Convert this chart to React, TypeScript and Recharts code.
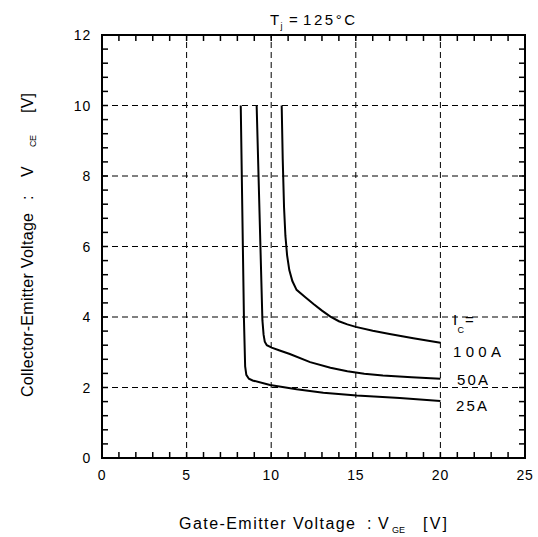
import React from 'react';
import { LineChart, Line, XAxis, YAxis, ReferenceLine, ReferenceArea } from 'recharts';

// ---- data ----
const xMajorTicks = [0, 5, 10, 15, 20, 25];
const xMinorTicks = [1, 2, 3, 4, 5, 6, 7, 8, 9, 10, 11, 12, 13, 14, 15, 16, 17, 18, 19, 20, 21, 22, 23, 24];
const yMajorTicks = [0, 2, 4, 6, 8, 10, 12];
const yMinorTicks = [0.4, 0.8, 1.2, 1.6, 2, 2.4, 2.8, 3.2, 3.6, 4, 4.4, 4.8, 5.2, 5.6, 6, 6.4, 6.8, 7.2, 7.6, 8, 8.4, 8.8, 9.2, 9.6, 10, 10.4, 10.8, 11.2, 11.6];
const xGridValues = [5, 10, 15, 20];
const yGridValues = [2, 4, 6, 8, 10];
const xDomain = [0, 25];
const yDomain = [0, 12];

const curve25A = [
  { x: 8.2, y: 10 },
  { x: 8.39, y: 3.92 },
  { x: 8.46, y: 2.6 },
  { x: 8.53, y: 2.36 },
  { x: 8.68, y: 2.25 },
  { x: 8.9, y: 2.2 },
  { x: 9.93, y: 2.07 },
  { x: 11.5, y: 1.95 },
  { x: 13.08, y: 1.85 },
  { x: 15.05, y: 1.77 },
  { x: 17.6, y: 1.7 },
  { x: 20, y: 1.62 },
];

const curve50A = [
  { x: 9.14, y: 10 },
  { x: 9.48, y: 3.91 },
  { x: 9.55, y: 3.5 },
  { x: 9.62, y: 3.3 },
  { x: 9.74, y: 3.2 },
  { x: 10.03, y: 3.13 },
  { x: 10.5, y: 3.05 },
  { x: 11.1, y: 2.95 },
  { x: 12.3, y: 2.72 },
  { x: 13.5, y: 2.56 },
  { x: 14.5, y: 2.46 },
  { x: 15.5, y: 2.39 },
  { x: 16.6, y: 2.34 },
  { x: 18.3, y: 2.29 },
  { x: 20, y: 2.25 },
];

const curve100A = [
  { x: 10.62, y: 10 },
  { x: 10.68, y: 8.5 },
  { x: 10.76, y: 7.1 },
  { x: 10.84, y: 6.3 },
  { x: 10.94, y: 5.75 },
  { x: 11.07, y: 5.33 },
  { x: 11.25, y: 5.02 },
  { x: 11.5, y: 4.77 },
  { x: 12.0, y: 4.57 },
  { x: 12.5, y: 4.37 },
  { x: 13.0, y: 4.18 },
  { x: 13.5, y: 4.01 },
  { x: 14.0, y: 3.88 },
  { x: 14.5, y: 3.79 },
  { x: 15.0, y: 3.72 },
  { x: 16.0, y: 3.61 },
  { x: 17.0, y: 3.52 },
  { x: 18.4, y: 3.4 },
  { x: 20, y: 3.27 },
];

const FONT = '"Liberation Sans", Arial, Helvetica, sans-serif';
const TICK_LEN = 6;
const TICK_W = 1.5;

const BottomLabel = (props: any) => {
  const { x, y, payload } = props;
  return (
    <text x={x} y={y + 22} textAnchor="middle" fontSize={14} fontFamily={FONT} fill="#000" letterSpacing={0.8}>
      {payload.value}
    </text>
  );
};

const LeftLabel = (props: any) => {
  const { x, y, payload } = props;
  return (
    <text x={x - 11} y={y + 5} textAnchor="end" fontSize={14} fontFamily={FONT} fill="#000" letterSpacing={0.8}>
      {payload.value}
    </text>
  );
};

// vertical reference line drawn only as inward tick marks at top and bottom edges
const XTickShape = (props: any) => {
  const { x1, y1, y2 } = props;
  const top = Math.min(y1, y2);
  const bot = Math.max(y1, y2);
  return (
    <g>
      <path d={`M${x1},${bot}L${x1},${bot - TICK_LEN}`} stroke="#000" strokeWidth={TICK_W} />
      <path d={`M${x1},${top}L${x1},${top + TICK_LEN}`} stroke="#000" strokeWidth={TICK_W} />
    </g>
  );
};

// horizontal reference line drawn only as inward tick marks at left and right edges
const YTickShape = (props: any) => {
  const { x1, x2, y1 } = props;
  const l = Math.min(x1, x2);
  const r = Math.max(x1, x2);
  return (
    <g>
      <path d={`M${l},${y1}L${l + TICK_LEN},${y1}`} stroke="#000" strokeWidth={TICK_W} />
      <path d={`M${r},${y1}L${r - TICK_LEN},${y1}`} stroke="#000" strokeWidth={TICK_W} />
    </g>
  );
};

export default function App() {
  return (
    <div style={{ position: 'absolute', left: 0, top: 0, width: 538, height: 537, background: '#fff', fontFamily: FONT }}>
      <LineChart width={538} height={537} margin={{ top: 35, right: 13, bottom: 0, left: 0 }}>
        <XAxis
          type="number"
          dataKey="x"
          domain={xDomain}
          ticks={xMajorTicks}
          interval={0}
          allowDataOverflow
          height={79}
          tickSize={0}
          tickMargin={0}
          tickLine={false}
          axisLine={false}
          tick={<BottomLabel />}
        />
        <YAxis
          type="number"
          domain={yDomain}
          ticks={yMajorTicks}
          interval={0}
          allowDataOverflow
          width={102}
          tickSize={0}
          tickMargin={0}
          tickLine={false}
          axisLine={false}
          tick={<LeftLabel />}
        />
        {xGridValues.map((v) => (
          <ReferenceLine key={'gx' + v} x={v} stroke="#000" strokeWidth={1} strokeDasharray="6 4" />
        ))}
        {yGridValues.map((v) => (
          <ReferenceLine key={'gy' + v} y={v} stroke="#000" strokeWidth={1} strokeDasharray="6 4" />
        ))}
        {xMinorTicks.map((v) => (
          <ReferenceLine key={'tx' + v} x={v} stroke="#000" shape={XTickShape} />
        ))}
        {yMinorTicks.map((v) => (
          <ReferenceLine key={'ty' + v} y={v} stroke="#000" shape={YTickShape} />
        ))}
        <ReferenceArea
          x1={xDomain[0]}
          x2={xDomain[1]}
          y1={yDomain[0]}
          y2={yDomain[1]}
          fill="none"
          fillOpacity={0}
          stroke="#000"
          strokeWidth={2}
          strokeOpacity={1}
        />
        <Line data={curve25A} dataKey="y" type="linear" stroke="#000" strokeWidth={2} dot={false} isAnimationActive={false} />
        <Line data={curve50A} dataKey="y" type="linear" stroke="#000" strokeWidth={2} dot={false} isAnimationActive={false} />
        <Line data={curve100A} dataKey="y" type="linear" stroke="#000" strokeWidth={2} dot={false} isAnimationActive={false} />
      </LineChart>
      <svg width={538} height={537} style={{ position: 'absolute', left: 0, top: 0, pointerEvents: 'none' }}>
        <g fontFamily={FONT} fill="#000">
          {/* title */}
          <text x={270} y={25} fontSize={15}>T</text>
          <text x={280.5} y={29} fontSize={9}>j</text>
          <text x={289} y={25} fontSize={15}>=</text>
          <text x={303} y={25} fontSize={15} textLength={52} lengthAdjust="spacing">125°C</text>

          {/* x axis label */}
          <text x={179} y={529} fontSize={16} textLength={176} lengthAdjust="spacing">Gate-Emitter Voltage</text>
          <text x={367} y={529} fontSize={16}>:</text>
          <text x={378} y={529} fontSize={16}>V</text>
          <text x={392} y={533} fontSize={9} textLength={13} lengthAdjust="spacing">GE</text>
          <text x={423} y={529} fontSize={16} textLength={24} lengthAdjust="spacing">[V]</text>

          {/* y axis label */}
          <g transform="translate(33, 397) rotate(-90)">
            <text x={0} y={0} fontSize={16} textLength={184} lengthAdjust="spacing">Collector-Emitter Voltage</text>
            <text x={197} y={0} fontSize={16}>:</text>
            <text x={220} y={0} fontSize={16}>V</text>
            <text x={250} y={3} fontSize={9} textLength={12} lengthAdjust="spacing">CE</text>
            <text x={284} y={0} fontSize={16} textLength={20} lengthAdjust="spacing">[V]</text>
          </g>

          {/* current annotations */}
          <text x={453} y={325} fontSize={15}>I</text>
          <text x={457.5} y={333} fontSize={9}>C</text>
          <text x={465} y={325} fontSize={15}>=</text>
          <text x={453} y={357} fontSize={15} textLength={48} lengthAdjust="spacing">100A</text>
          <text x={457} y={385} fontSize={15} textLength={31} lengthAdjust="spacing">50A</text>
          <text x={456} y={411} fontSize={15} textLength={31} lengthAdjust="spacing">25A</text>
        </g>
      </svg>
    </div>
  );
}
